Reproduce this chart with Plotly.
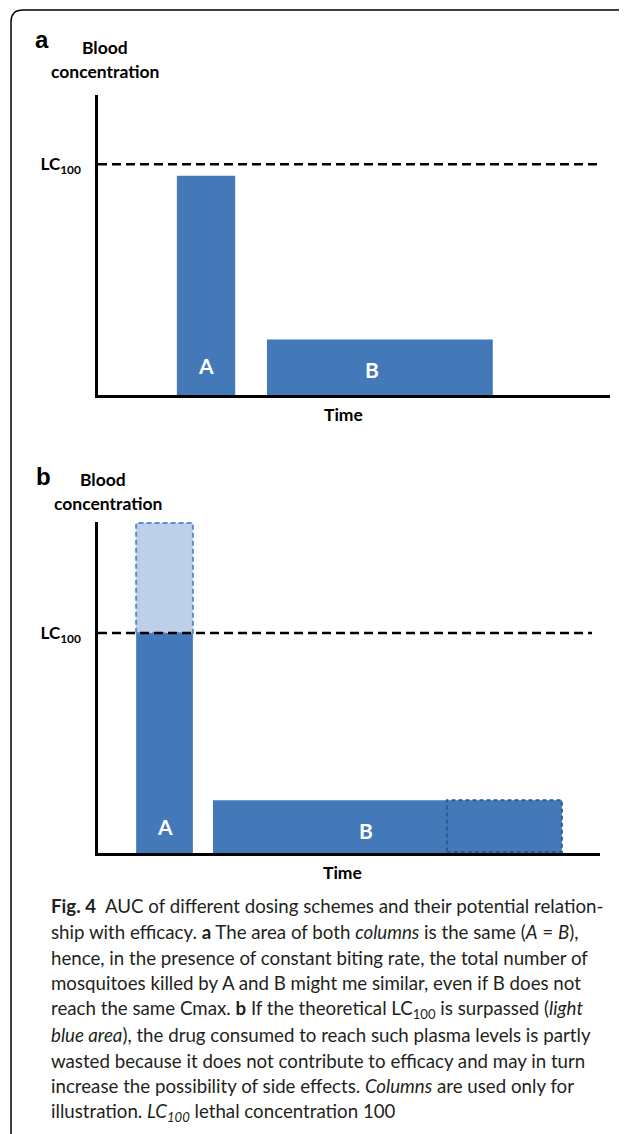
import plotly.graph_objects as go

# page body has an 8px margin, so the figure is drawn 8px smaller and all
# pixel layout positions are given in page coordinates and shifted by OFF
OFF = 8
W, H = 627 - OFF, 1134 - OFF

# ---------------- data ----------------
# Panel a: two dosing columns with equal area (A = B); LC100 = 1
a_names = ["A", "B"]
a_start = [1.54, 3.30]
a_end = [2.68, 7.71]
a_height = [0.95, 0.24]
a_lc_end = 9.75

# Panel b: column A overshoots LC100, column B extended in time
b_names = ["A", "B"]
b_start = [0.76, 2.29]
b_end = [1.89, 9.24]
b_height = [1.0, 0.24]          # part of A below LC100, B
b_excess_top = 1.5              # top of A (light blue wasted part)
b_ext_start = 6.95              # start of dashed extension of B
b_lc_end = 9.84

LC100 = 1.0

BLUE = "#4379B9"
LIGHT = "#BDD0E7"
LIGHT_EDGE = "#5B8ED6"
DARK_EDGE = "#2D5A8E"
INK = "#231F20"


def px(x):
    return (x - OFF) / W


def py(y):
    return 1 - (y - OFF) / H


fig = go.Figure()

# Panel a bars
fig.add_trace(go.Bar(
    x=[(s + e) / 2 for s, e in zip(a_start, a_end)],
    width=[e - s for s, e in zip(a_start, a_end)],
    y=a_height, base=[0, 0], marker=dict(color=BLUE, line=dict(width=0)),
    xaxis="x", yaxis="y", showlegend=False, hoverinfo="skip"))
fig.add_trace(go.Scatter(
    x=[0, a_lc_end], y=[LC100, LC100], mode="lines",
    line=dict(color="black", width=2.5, dash="9px,5px"),
    xaxis="x", yaxis="y", showlegend=False, hoverinfo="skip"))

# Panel b bars
fig.add_trace(go.Bar(
    x=[(s + e) / 2 for s, e in zip(b_start, b_end)],
    width=[e - s for s, e in zip(b_start, b_end)],
    y=b_height, base=[0, 0], marker=dict(color=BLUE, line=dict(width=0)),
    xaxis="x2", yaxis="y2", showlegend=False, hoverinfo="skip"))
# wasted (above LC100) part of A
xa0, xa1 = b_start[0], b_end[0]
fig.add_trace(go.Scatter(
    x=[xa0, xa1, xa1, xa0, xa0],
    y=[LC100, LC100, b_excess_top, b_excess_top, LC100],
    mode="lines", fill="toself", fillcolor=LIGHT,
    line=dict(color=LIGHT_EDGE, width=2, dash="5px,3px"),
    xaxis="x2", yaxis="y2", showlegend=False, hoverinfo="skip"))
# dashed extension of B
xb0, xb1 = b_ext_start, b_end[1]
fig.add_trace(go.Scatter(
    x=[xb0, xb1, xb1, xb0, xb0],
    y=[0.005, 0.005, b_height[1], b_height[1], 0.005],
    mode="lines", line=dict(color=DARK_EDGE, width=2, dash="4px,3px"),
    xaxis="x2", yaxis="y2", showlegend=False, hoverinfo="skip"))
fig.add_trace(go.Scatter(
    x=[0, b_lc_end], y=[LC100, LC100], mode="lines",
    line=dict(color="black", width=2.5, dash="9px,5px"),
    xaxis="x2", yaxis="y2", showlegend=False, hoverinfo="skip"))

lc_label = "<b>LC<sub>100</sub></b>"
axis_common = dict(showline=True, linecolor="black", linewidth=2.5, zeroline=False,
                   showgrid=False, fixedrange=True)
lc_font = dict(family="Lato", size=17, color="black")
fig.update_layout(
    width=W, height=H, autosize=False,
    margin=dict(l=0, r=0, t=0, b=0, pad=0),
    paper_bgcolor="white", plot_bgcolor="rgba(0,0,0,0)",
    barmode="overlay", showlegend=False,
    xaxis=dict(domain=[px(98), px(610)], range=[0, 10], showticklabels=False,
               ticks="", anchor="y", **axis_common),
    yaxis=dict(domain=[py(395), py(95)], range=[0, 1.3], tickvals=[LC100],
               ticktext=[lc_label], ticks="", ticklabelstandoff=11,
               tickfont=lc_font, anchor="x", **axis_common),
    xaxis2=dict(domain=[px(98), px(600)], range=[0, 10], showticklabels=False,
                ticks="", anchor="y2", **axis_common),
    yaxis2=dict(domain=[py(853), py(522)], range=[0, 1.505], tickvals=[LC100],
                ticktext=[lc_label], ticks="", ticklabelstandoff=11,
                tickfont=lc_font, anchor="x2", **axis_common),
)

ann = []
lab_font = dict(family="Lato", size=17.5, color="black")
# panel letters and axis titles
for letter, lx, ly in [("a", 42, 39), ("b", 43, 476)]:
    ann.append(dict(text=f"<b>{letter}</b>", x=px(lx), y=py(ly), xref="paper", yref="paper",
                    showarrow=False, xanchor="center", yanchor="middle",
                    font=dict(family="Liberation Sans", size=24, color="black")))
for t, lx, ly in [("Blood", 105, 48), ("concentration", 105, 72),
                  ("Blood", 103, 479), ("concentration", 108, 503),
                  ("Time", 343, 414), ("Time", 342, 872)]:
    ann.append(dict(text=f"<b>{t}</b>", x=px(lx), y=py(ly), xref="paper", yref="paper",
                    showarrow=False, xanchor="center", yanchor="middle", font=lab_font))
# bar labels (white, inside bars near the base)
bar_font = dict(family="Lato", size=21, color="white")
for xr, yr, names, starts, ends, shifts in [
        ("x", "y", a_names, a_start, a_end, [(0, 30), (-8, 26)]),
        ("x2", "y2", b_names, b_start, b_end, [(0, 27), (-21, 23)])]:
    for n, s, e, (dx, dy) in zip(names, starts, ends, shifts):
        ann.append(dict(text=f"<b>{n}</b>", x=(s + e) / 2, y=0, xref=xr, yref=yr,
                        showarrow=False, xanchor="center", yanchor="middle",
                        xshift=dx, yshift=dy, font=bar_font))

caption = [
    "<b>Fig. 4</b>  AUC of different dosing schemes and their potential relation-",
    "ship with efficacy. <b>a</b> The area of both <i>columns</i> is the same (<i>A</i> = <i>B</i>),",
    "hence, in the presence of constant biting rate, the total number of",
    "mosquitoes killed by A and B might me similar, even if B does not",
    "reach the same Cmax. <b>b</b> If the theoretical LC<sub>100</sub> is surpassed (<i>light</i>",
    "<i>blue area</i>), the drug consumed to reach such plasma levels is partly",
    "wasted because it does not contribute to efficacy and may in turn",
    "increase the possibility of side effects. <i>Columns</i> are used only for",
    "illustration. <i>LC<sub>100</sub></i> lethal concentration 100",
]
for i, line in enumerate(caption):
    ann.append(dict(text=line, x=px(49), y=py(906 + i * 25.75), xref="paper", yref="paper",
                    showarrow=False, xanchor="left", yanchor="middle", align="left",
                    font=dict(family="Lato", size=18.7, color=INK)))
fig.update_layout(annotations=ann)

# outer rounded frame (top and left edges)
fig.add_shape(type="path", xref="paper", yref="paper",
              path=f"M {px(11)},{py(1134)} L {px(11)},{py(22)} Q {px(11)},{py(10)} {px(23)},{py(10)} L {px(627)},{py(10)}",
              line=dict(color="black", width=1.5))

fig.write_html("out.html")
